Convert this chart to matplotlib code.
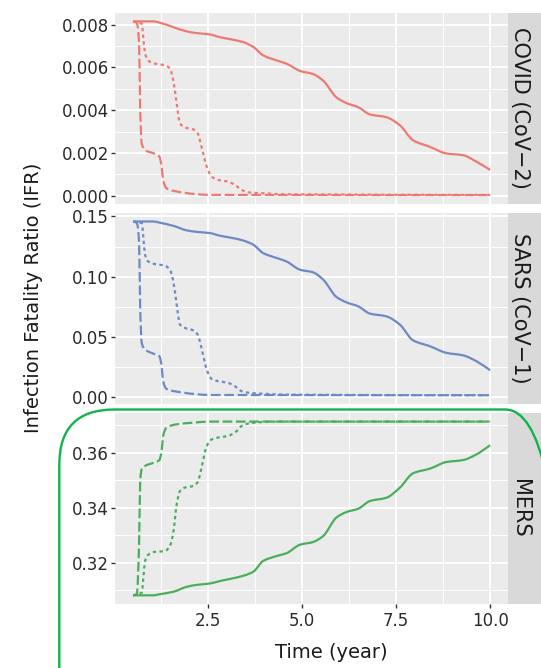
import numpy as np
import matplotlib
matplotlib.use('Agg')
import matplotlib.pyplot as plt
from matplotlib.patches import FancyBboxPatch, PathPatch
from matplotlib.path import Path
from matplotlib.ticker import FixedLocator, FormatStrFormatter

# time grids (year), one per curve type
t_solid = [0.5, 1.04, 1.21, 1.57, 1.93, 2.19, 2.54, 2.81, 3.16, 3.43, 3.70, 3.96,
           4.32, 4.58, 4.94, 5.29, 5.56, 5.91, 6.18, 6.49, 6.80, 7.24, 7.60, 7.95,
           8.40, 8.84, 9.28, 9.64, 10.0]
t_dotted = [0.5, 0.73, 0.77, 0.82, 0.90, 1.08, 1.35, 1.48, 1.57, 1.66, 1.75, 1.88,
            2.10, 2.22, 2.32, 2.46, 2.59, 2.77, 3.03, 3.21, 3.39, 3.61, 4.05, 4.50, 10.0]
t_dashed = [0.5, 0.6, 0.66, 0.69, 0.73, 0.82, 1.04, 1.20, 1.26, 1.30, 1.39, 1.66,
            2.10, 2.55, 10.0]

# COVID (CoV-2)
covid_solid = [0.00816, 0.00816, 0.00810, 0.00789, 0.00769, 0.00761, 0.00755, 0.00742,
               0.00730, 0.00719, 0.00696, 0.00657, 0.00633, 0.00618, 0.00584, 0.00569,
               0.00538, 0.00460, 0.00433, 0.00414, 0.00380, 0.00367, 0.00329, 0.00259,
               0.00228, 0.00197, 0.00189, 0.00158, 0.00120]
covid_dotted = [0.00816, 0.00805, 0.00742, 0.00665, 0.00633, 0.00618, 0.00610, 0.00595,
                0.00540, 0.00431, 0.00338, 0.00319, 0.00310, 0.00291, 0.00229, 0.00135,
                0.00089, 0.00073, 0.00065, 0.00050, 0.00026, 0.00014, 0.00010, 0.00006,
                0.00003]
covid_dashed = [0.00816, 0.00808, 0.00711, 0.00400, 0.00244, 0.00213, 0.00198, 0.00182,
                0.00135, 0.00073, 0.00034, 0.00019, 0.00008, 0.00003, 0.00002]

# SARS (CoV-1)
sars_solid = [0.1458, 0.1458, 0.1448, 0.1422, 0.1384, 0.1372, 0.1362, 0.1340, 0.1320,
              0.1300, 0.1265, 0.1196, 0.1155, 0.1127, 0.1058, 0.1036, 0.0975, 0.0832,
              0.0787, 0.0754, 0.0694, 0.0671, 0.0602, 0.0472, 0.0423, 0.0368, 0.0348,
              0.0298, 0.0224]
sars_dotted = [0.1458, 0.1445, 0.1334, 0.1182, 0.1127, 0.1105, 0.1091, 0.1058, 0.0961,
               0.0768, 0.0602, 0.0575, 0.0555, 0.0519, 0.0409, 0.0229, 0.0152, 0.0133,
               0.0119, 0.0091, 0.0050, 0.0036, 0.0028, 0.0022, 0.0017]
sars_dashed = [0.1458, 0.1445, 0.1280, 0.0726, 0.0450, 0.0395, 0.0362, 0.0340, 0.0257,
               0.0133, 0.0069, 0.0047, 0.0028, 0.0019, 0.0017]

# MERS
mers_solid = [0.3081, 0.3081, 0.3085, 0.3094, 0.3112, 0.3119, 0.3124, 0.3133, 0.3143,
              0.3152, 0.3167, 0.3206, 0.3224, 0.3234, 0.3265, 0.3275, 0.3297, 0.3364,
              0.3384, 0.3396, 0.3424, 0.3436, 0.3473, 0.3525, 0.3542, 0.3566, 0.3573,
              0.3594, 0.3627]
mers_dotted = [0.3081, 0.3091, 0.3140, 0.3206, 0.3228, 0.3239, 0.3242, 0.3261, 0.3309,
               0.3412, 0.3461, 0.3473, 0.3479, 0.3493, 0.3545, 0.3624, 0.3648, 0.3655,
               0.3661, 0.3673, 0.3697, 0.3707, 0.3712, 0.3713, 0.3713]
mers_dashed = [0.3081, 0.3085, 0.3273, 0.3500, 0.3540, 0.3552, 0.3563, 0.3573, 0.3606,
               0.3661, 0.3691, 0.3703, 0.3709, 0.3713, 0.3713]

strip_labels = ['COVID (CoV\u22122)', 'SARS (CoV\u22121)', 'MERS']
colors = ['#EC7A73', '#6D8AC4', '#4AAE5C']
y_major = [[0.000, 0.002, 0.004, 0.006, 0.008],
           [0.00, 0.05, 0.10, 0.15],
           [0.32, 0.34, 0.36]]
y_minor = [[0.001, 0.003, 0.005, 0.007],
           [0.025, 0.075, 0.125],
           [0.31, 0.33, 0.35, 0.37]]
y_fmt = ['%.3f', '%.2f', '%.2f']
x_major = [2.5, 5.0, 7.5, 10.0]
x_minor = [1.25, 3.75, 6.25, 8.75]

panels = [(covid_solid, covid_dotted, covid_dashed),
          (sars_solid, sars_dotted, sars_dashed),
          (mers_solid, mers_dotted, mers_dashed)]


def smooth_path(x, y):
    # monotone cubic (Fritsch-Carlson) through the points, as bezier segments
    x = np.asarray(x, float)
    y = np.asarray(y, float)
    hx = np.diff(x)
    d = np.diff(y) / hx
    m = np.zeros_like(y)
    m[0], m[-1] = d[0], d[-1]
    for k in range(1, len(x) - 1):
        if d[k - 1] * d[k] <= 0:
            m[k] = 0.0
        else:
            w1 = 2 * hx[k] + hx[k - 1]
            w2 = hx[k] + 2 * hx[k - 1]
            m[k] = (w1 + w2) / (w1 / d[k - 1] + w2 / d[k])
    verts = [(x[0], y[0])]
    codes = [Path.MOVETO]
    for k in range(len(x) - 1):
        h3 = hx[k] / 3.
        verts += [(x[k] + h3, y[k] + m[k] * h3),
                  (x[k + 1] - h3, y[k + 1] - m[k + 1] * h3),
                  (x[k + 1], y[k + 1])]
        codes += [Path.CURVE4] * 3
    return Path(verts, codes)


plt.rcParams['font.family'] = 'DejaVu Sans'
plt.rcParams['lines.scale_dashes'] = False

fig = plt.figure(figsize=(5.41, 6.68), dpi=100)
left, right, top, bottom = 0.213, 0.939, 0.981, 0.0958
gap = 9 / 668.
h = (top - bottom - 2 * gap) / 3.

for i, (solid, dotted, dashed) in enumerate(panels):
    y0 = top - (i + 1) * h - i * gap
    ax = fig.add_axes([left, y0, right - left, h])
    ax.set_facecolor('#EBEBEB')
    for s in ax.spines.values():
        s.set_visible(False)

    c = colors[i]
    for tt, yy, ls in [(t_solid, solid, '-'),
                       (t_dotted, dotted, (0, (2.4, 2.4))),
                       (t_dashed, dashed, (0, (7, 2.6)))]:
        ax.add_patch(PathPatch(smooth_path(tt, yy), fill=False, edgecolor=c,
                               lw=1.6, linestyle=ls, capstyle='butt'))

    allv = np.concatenate([solid, dotted, dashed])
    lo, hi = allv.min(), allv.max()
    pad = 0.05 * (hi - lo)
    ax.set_ylim(lo - pad, hi + pad)
    ax.set_xlim(0.5 - 0.475, 10 + 0.475)

    ax.yaxis.set_major_locator(FixedLocator(y_major[i]))
    ax.yaxis.set_minor_locator(FixedLocator(y_minor[i]))
    ax.yaxis.set_major_formatter(FormatStrFormatter(y_fmt[i]))
    ax.xaxis.set_major_locator(FixedLocator(x_major))
    ax.xaxis.set_minor_locator(FixedLocator(x_minor))
    ax.grid(which='major', color='white', lw=1.4)
    ax.grid(which='minor', color='white', lw=0.7)
    ax.set_axisbelow(True)
    ax.tick_params(axis='y', which='major', length=3, width=1, color='#333333',
                   labelsize=12, labelcolor='#2a2a2a', pad=1.5)
    ax.tick_params(which='minor', length=0)
    if i < 2:
        ax.tick_params(axis='x', which='major', length=0, labelbottom=False)
    else:
        ax.xaxis.set_major_formatter(FormatStrFormatter('%.1f'))
        ax.tick_params(axis='x', which='major', length=3, width=1, color='#333333',
                       labelsize=12, labelcolor='#2a2a2a', pad=3)

    # facet strip
    sax = fig.add_axes([right, y0, 1.0 - right + 0.02, h])
    sax.set_facecolor('#D9D9D9')
    sax.set_xticks([])
    sax.set_yticks([])
    for s in sax.spines.values():
        s.set_visible(False)
    sax.text(0.27, 0.5, strip_labels[i], rotation=270, ha='center', va='center',
             fontsize=15, color='#1A1A1A', transform=sax.transAxes)

fig.text(34 / 541., 0.554, 'Infection Fatality Ratio (IFR)', rotation=90,
         ha='center', va='center', fontsize=14, color='#1A1A1A')
fig.text(331 / 541., 0.0225, 'Time (year)', ha='center', va='center',
         fontsize=14, color='#1A1A1A')

# green highlight box drawn over the MERS panel
box = FancyBboxPatch((0.593, -0.6), 5.60 - 0.593, 2.585 + 0.6,
                     boxstyle='round,pad=0,rounding_size=0.55',
                     transform=fig.dpi_scale_trans, fill=False,
                     edgecolor='#10B44A', lw=1.7, zorder=10)
fig.patches.append(box)

fig.savefig('out.png', dpi=100)
